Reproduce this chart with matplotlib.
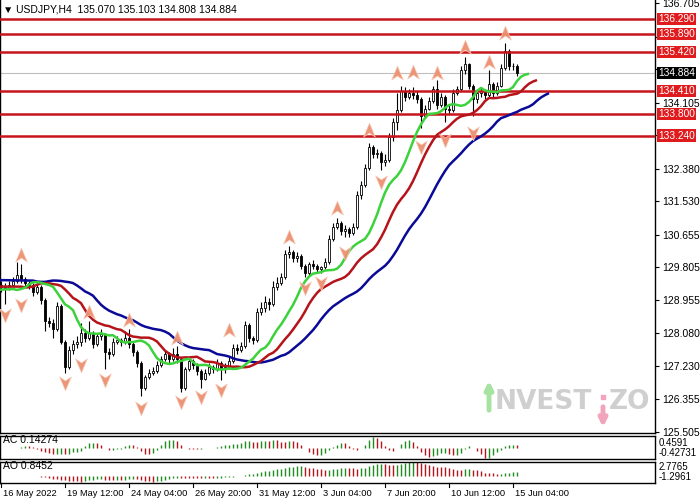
import numpy as np
import matplotlib
matplotlib.use("Agg")
import matplotlib.pyplot as plt
import pandas as pd
from matplotlib.path import Path
from matplotlib.transforms import blended_transform_factory as btf

plt.rcParams['font.family'] = ['Liberation Sans', 'DejaVu Sans']

# ---------------- data ----------------
symbol = "USDJPY,H4"
first_open = 129.35
closes = [129.30, 129.25, 129.35, 129.45, 129.60, 129.50, 129.40, 129.35, 129.15, 129.30,
          128.95, 128.40, 128.35, 128.20, 128.80, 127.85, 127.20, 127.65, 127.80, 127.85,
          128.10, 127.95, 128.10, 127.80, 128.00, 128.05, 127.60, 127.55, 127.85, 127.90,
          127.85, 127.95, 127.80, 127.60, 127.30, 126.65, 126.95, 127.05, 127.10, 127.25,
          127.40, 127.55, 127.40, 127.55, 127.40, 126.65, 127.15, 127.35, 127.25, 127.10,
          126.90, 127.05, 127.20, 127.15, 127.30, 127.15, 127.20, 127.35, 127.70, 127.65,
          127.75, 128.30, 127.95, 127.90, 128.65, 128.75, 128.90, 128.85, 129.30, 129.40,
          129.55, 130.15, 130.20, 130.05, 130.10, 129.85, 129.65, 129.90, 129.85, 129.75,
          129.80, 129.95, 130.55, 130.85, 130.95, 130.75, 130.80, 130.70, 130.85, 131.70,
          131.95, 132.40, 132.95, 132.75, 132.80, 132.55, 132.60, 133.20, 133.60, 133.90,
          134.40, 134.25, 134.35, 134.30, 134.20, 133.75, 133.95, 134.15, 134.45, 134.05,
          134.25, 133.95, 133.90, 134.35, 134.45, 134.95, 135.10, 134.55, 134.20, 134.35,
          134.40, 134.30, 134.60, 134.35, 134.55, 135.00, 135.45, 135.05, 135.070, 134.884]
highs = [129.45, 129.40, 129.45, 129.55, 129.95, 129.90, 129.55, 129.45, 129.40, 129.40,
         129.35, 129.00, 128.50, 128.45, 128.90, 128.85, 127.90, 127.75, 127.90, 128.00,
         128.35, 128.20, 128.40, 128.15, 128.10, 128.20, 128.10, 127.70, 127.95, 128.00,
         127.95, 128.15, 128.20, 127.85, 127.65, 127.35, 127.00, 127.15, 127.20, 127.35,
         127.50, 127.65, 127.60, 127.70, 127.75, 127.45, 127.20, 127.45, 127.40, 127.30,
         127.15, 127.15, 127.30, 127.25, 127.40, 127.35, 127.30, 127.45, 127.80, 127.80,
         127.85, 128.40, 128.35, 128.00, 128.75, 128.90, 129.05, 129.00, 129.45, 129.55,
         129.65, 130.25, 130.35, 130.25, 130.20, 130.15, 129.90, 129.95, 130.00, 129.90,
         129.85, 130.05, 130.65, 130.95, 131.10, 131.00, 130.90, 130.85, 130.95, 131.80,
         132.05, 132.50, 133.05, 133.00, 132.90, 132.85, 132.75, 133.30, 133.70, 134.35,
         134.55, 134.50, 134.45, 134.50, 134.40, 134.25, 134.05, 134.25, 134.55, 134.70,
         134.35, 134.30, 134.05, 134.45, 134.55, 135.05, 135.30, 135.15, 134.60, 134.45,
         134.50, 134.45, 134.95, 134.65, 134.65, 135.10, 135.65, 135.50, 135.15, 135.103]
lows = [129.15, 128.85, 129.20, 129.30, 129.40, 129.40, 129.30, 129.25, 129.05, 129.10,
        128.85, 128.15, 128.25, 127.95, 128.15, 127.80, 127.05, 127.15, 127.55, 127.70,
        127.75, 127.85, 127.90, 127.70, 127.75, 127.90, 127.15, 127.40, 127.50, 127.80,
        127.75, 127.80, 127.70, 127.50, 127.20, 126.45, 126.60, 126.90, 127.00, 127.05,
        127.20, 127.35, 127.30, 127.35, 127.30, 126.55, 126.60, 127.10, 127.15, 127.00,
        126.65, 126.85, 127.00, 127.05, 127.10, 126.85, 127.05, 127.15, 127.30, 127.55,
        127.60, 127.70, 127.85, 127.80, 127.85, 128.55, 128.65, 128.70, 128.80, 129.20,
        129.35, 129.50, 130.05, 129.95, 129.95, 129.75, 129.55, 129.60, 129.75, 129.65,
        129.65, 129.75, 129.90, 130.50, 130.80, 130.65, 130.60, 130.60, 130.65, 130.80,
        131.60, 131.90, 132.35, 132.65, 132.65, 132.35, 132.45, 132.55, 133.10, 133.40,
        133.85, 134.15, 134.20, 134.20, 134.10, 133.45, 133.70, 133.90, 134.10, 133.95,
        134.00, 133.60, 133.80, 133.85, 134.30, 134.40, 134.85, 134.45, 133.75, 134.10,
        134.25, 134.20, 134.25, 134.25, 134.30, 134.50, 134.95, 134.95, 134.95, 134.808]

level_prices = [136.290, 135.890, 135.420, 134.410, 133.800, 133.240]
last_price = 134.884
price_ticks = [136.705, 135.830, 134.980, 134.105, 133.255, 132.380, 131.530, 130.655,
               129.805, 128.955, 128.080, 127.230, 126.355, 125.505]
hidden_ticks = [135.830, 134.980, 133.255]   # covered by the level labels
time_labels = ["16 May 2022", "19 May 12:00", "24 May 04:00", "26 May 20:00", "31 May 12:00",
               "3 Jun 04:00", "7 Jun 20:00", "10 Jun 12:00", "15 Jun 04:00"]
time_label_bars = [0, 16, 32, 48, 64, 80, 96, 112, 128]

up_fr_bars = [5, 22, 32, 44, 57, 72, 84, 92, 99, 103, 109, 116, 122, 126]
up_fr_prices = [130.13, 128.64, 128.43, 127.96, 128.17, 130.60, 131.35, 133.39, 134.88,
                134.90, 134.88, 135.56, 135.17, 135.92]
dn_fr_bars = [1, 5, 16, 20, 26, 35, 45, 50, 55, 76, 80, 86, 95, 105, 111, 118]
dn_fr_prices = [128.56, 128.82, 126.78, 127.25, 126.86, 126.13, 126.29, 126.42, 126.60,
                129.26, 129.39, 130.18, 132.03, 132.95, 133.13, 133.31]

# Alligator (period, shift, starting value read at left edge)
jaw_period, jaw_shift, jaw_seed = 13, 8, 129.47
teeth_period, teeth_shift, teeth_seed = 8, 5, 129.30
lips_period, lips_shift, lips_seed = 5, 3, 129.22

ac_last, ac_range = 0.14274, (-0.42731, 0.4591)
ao_last, ao_range = 0.8452, (-1.2961, 2.7765)

# ---------------- derived ----------------
C = np.array(closes)
H = np.array(highs)
L = np.array(lows)
O = np.concatenate([[first_open], C[:-1]])
n = len(C)
idx = np.arange(n)
med = (H + L) / 2


def smma(vals, period, seed):
    out, s = [], seed
    for v in vals:
        s = (s * (period - 1) + v) / period
        out.append(s)
    return np.array(out)


ms = pd.Series(med)
ao = (ms.rolling(5, min_periods=1).mean() - ms.rolling(34, min_periods=1).mean()).values
ac = ao - pd.Series(ao).rolling(5, min_periods=1).mean().values

# ---------------- figure ----------------
W, Hpx = 700, 500
fig = plt.figure(figsize=(7, 5), dpi=100)
right = 655 / W
ax = fig.add_axes([0, 67 / Hpx, right, 433 / Hpx])
ax_ac = fig.add_axes([0, 41 / Hpx, right, 23 / Hpx])
ax_ao = fig.add_axes([0, 17 / Hpx, right, 21 / Hpx])

xlim = (-0.25, 163.5)
ylim = (125.478, 136.783)

# watermark
ax.text(495 / 655, (433 - 402) / 433, "NVEST", transform=ax.transAxes, fontsize=19,
        fontweight='bold', color='#CFCFCF', family='DejaVu Sans', ha='left', va='center', zorder=0)
ax.text(609 / 655, (433 - 402) / 433, "ZO", transform=ax.transAxes, fontsize=19,
        fontweight='bold', color='#CFCFCF', family='DejaVu Sans', ha='left', va='center', zorder=0)
ax.annotate('', xy=(489 / 655, (433 - 378) / 433), xytext=(489 / 655, (433 - 413) / 433),
            xycoords='axes fraction', arrowprops=dict(arrowstyle='-|>', color='#A6E3A0', lw=3.5,
                                                      mutation_scale=11), zorder=0)
ax.annotate('', xy=(603 / 655, (433 - 430) / 433), xytext=(603 / 655, (433 - 404) / 433),
            xycoords='axes fraction', arrowprops=dict(arrowstyle='-|>', color='#F2A4BC', lw=3.5,
                                                      mutation_scale=11), zorder=0)
ax.plot([603 / 655], [(433 - 397) / 433], 's', color='#F2A4BC', ms=3.5, transform=ax.transAxes,
        zorder=0)

# candles
up = C >= O
ax.vlines(idx, L, H, color='black', lw=0.8, zorder=2)
body_lo = np.minimum(O, C)
body_h = np.maximum(np.abs(C - O), 0.012)
ax.bar(idx, body_h, bottom=body_lo, width=0.62, color=np.where(up, 'white', 'black'),
       edgecolor='black', linewidth=0.6, zorder=3)

# levels
for p in level_prices:
    ax.axhline(p, color='#C8141B', lw=1.8, zorder=4)
ax.axhline(last_price, color='#BEBEBE', lw=0.8, zorder=1)

# alligator
for period, shift, seed, col in [(jaw_period, jaw_shift, jaw_seed, '#0A0A96'),
                                  (teeth_period, teeth_shift, teeth_seed, '#B4141A'),
                                  (lips_period, lips_shift, lips_seed, '#3CD23C')]:
    vals = smma(med, period, seed)
    xs = np.concatenate([[xlim[0]], idx + shift])
    ys = np.concatenate([[seed], vals])
    ax.plot(xs, ys, color=col, lw=1.8, zorder=5, solid_capstyle='butt')

# fractals
up_marker = Path([(0, 1), (0.8, -0.9), (0, -0.35), (-0.8, -0.9), (0, 1)],
                 [Path.MOVETO, Path.LINETO, Path.LINETO, Path.LINETO, Path.CLOSEPOLY])
dn_marker = Path([(0, -1), (0.8, 0.9), (0, 0.35), (-0.8, 0.9), (0, -1)],
                 [Path.MOVETO, Path.LINETO, Path.LINETO, Path.LINETO, Path.CLOSEPOLY])
ax.plot(up_fr_bars, up_fr_prices, ls='none', marker=up_marker, ms=10.5, mfc='#EC9070',
        mec='#F7C9B6', mew=0.5, alpha=0.95, zorder=6)
ax.plot(dn_fr_bars, dn_fr_prices, ls='none', marker=dn_marker, ms=10.5, mfc='#EC9070',
        mec='#F7C9B6', mew=0.5, alpha=0.95, zorder=6)

ax.set_xlim(*xlim)
ax.set_ylim(*ylim)
ax.set_xticks([])
ax.yaxis.tick_right()
ax.set_yticks(price_ticks)
ax.set_yticklabels(["" if t in hidden_ticks else f"{t:.3f}" for t in price_ticks])
ax.tick_params(axis='y', direction='out', length=3, width=0.8, pad=2, labelsize=7.5)
ax.spines['top'].set_visible(False)
for s in ['right', 'bottom', 'left']:
    ax.spines[s].set_linewidth(1.0)

# level labels
tr = btf(ax.transAxes, ax.transData)
for p in level_prices:
    ax.text(1.005, p, f"{p:.3f}", transform=tr, ha='left', va='center', fontsize=7.3,
            color='white', clip_on=False, zorder=10,
            bbox=dict(boxstyle='square,pad=0.12', fc='#E01B1E', ec='none'))
ax.text(1.005, last_price, f"{last_price:.3f}", transform=tr, ha='left', va='center',
        fontsize=7.3, color='white', clip_on=False, zorder=10,
        bbox=dict(boxstyle='square,pad=0.12', fc='black', ec='none'))

# header
fig.text(3 / W, 1 - 9 / Hpx, f"\u25BC {symbol}  {O[-1]:.3f} {H[-1]:.3f} {L[-1]:.3f} {C[-1]:.3f}",
         fontsize=7.5, ha='left', va='center', color='black')


# sub panels
def hist_panel(a, vals, rng, name, last):
    cols = ['#1E8C1E' if (i == 0 or vals[i] >= vals[i - 1]) else '#B4141A' for i in range(len(vals))]
    a.vlines(idx, 0, vals, colors=cols, lw=1.0)
    a.set_xlim(*xlim)
    a.set_ylim(*rng)
    a.set_xticks([])
    a.set_yticks([])
    for s in a.spines.values():
        s.set_linewidth(1.0)
    a.text(0.004, 0.82, f"{name} {last:g}", transform=a.transAxes, fontsize=7.5,
           ha='left', va='center')


hist_panel(ax_ac, ac, ac_range, "AC", ac_last)
hist_panel(ax_ao, ao, ao_range, "AO", ao_last)

fig.text(659 / W, 1 - 443.5 / Hpx, f"{ac_range[1]:g}", fontsize=7.0, va='center', ha='left')
fig.text(659 / W, 1 - 453 / Hpx, f"{ac_range[0]:g}", fontsize=7.0, va='center', ha='left')
fig.text(659 / W, 1 - 467 / Hpx, f"{ao_range[1]:g}", fontsize=7.0, va='center', ha='left')
fig.text(659 / W, 1 - 477 / Hpx, f"{ao_range[0]:g}", fontsize=7.0, va='center', ha='left')

# time axis labels
trt = btf(ax_ao.transData, ax_ao.transAxes)
for b, lab in zip(time_label_bars, time_labels):
    ax_ao.plot([b, b], [0, -4 / 21], color='black', lw=0.8, transform=trt, clip_on=False)
    ax_ao.text(b + 0.4, -10 / 21, lab, transform=trt, fontsize=6.7, ha='left', va='center',
               clip_on=False)

fig.savefig("out.png", dpi=100)
